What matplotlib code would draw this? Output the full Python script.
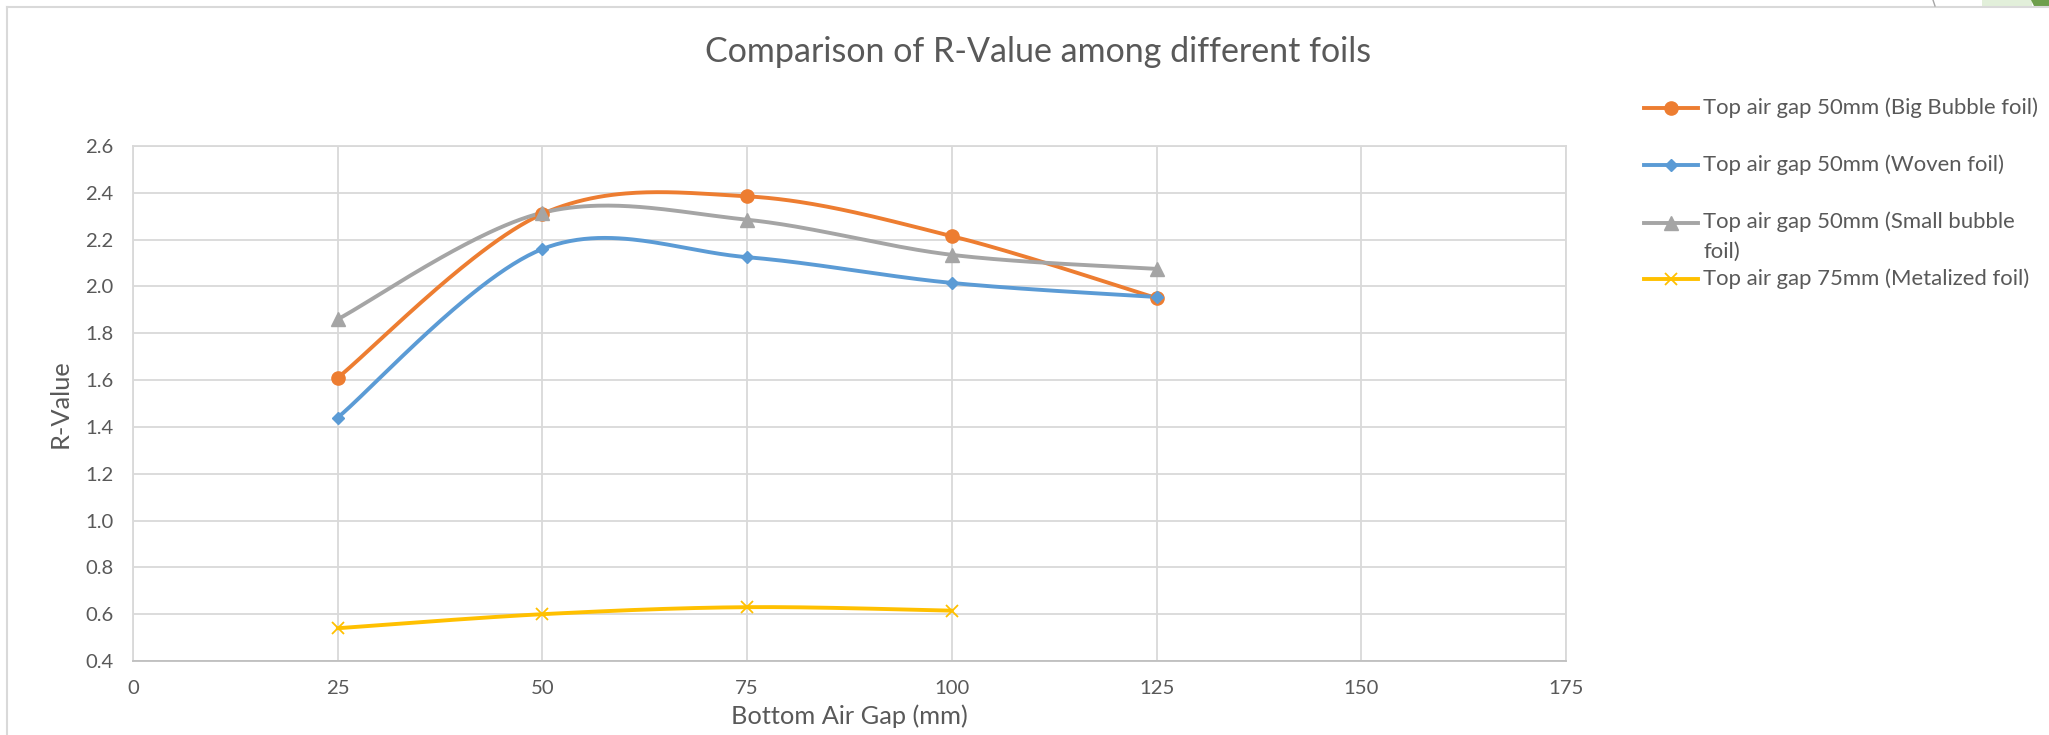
import numpy as np
import matplotlib
matplotlib.use("Agg")
import matplotlib.pyplot as plt
from matplotlib.lines import Line2D
from matplotlib.patches import Rectangle, Polygon

# ---------------- data ----------------
bottom_gap = [25, 50, 75, 100, 125]
bottom_gap_metal = [25, 50, 75, 100]
big_bubble = [1.61, 2.31, 2.385, 2.215, 1.95]
woven = [1.44, 2.16, 2.125, 2.015, 1.955]
small_bubble = [1.86, 2.315, 2.285, 2.135, 2.075]
metalized = [0.54, 0.60, 0.63, 0.615]

labels = [
    "Top air gap 50mm (Big Bubble foil)",
    "Top air gap 50mm (Woven foil)",
    "Top air gap 50mm (Small bubble\nfoil)",
    "Top air gap 75mm (Metalized foil)",
]
x_ticks = [0, 25, 50, 75, 100, 125, 150, 175]
y_ticks = [0.4, 0.6, 0.8, 1.0, 1.2, 1.4, 1.6, 1.8, 2.0, 2.2, 2.4, 2.6]

title = "Comparison of R-Value among different foils"
xlabel = "Bottom Air Gap (mm)"
ylabel = "R-Value"

# ---------------- style ----------------
W, H = 2049, 735
FONT = "Lato"
TXT = "#595959"
GRID = "#D9D9D9"
colors = ["#ED7D31", "#5B9BD5", "#A5A5A5", "#FFC000"]
markers = [dict(marker="o", ms=9.5), dict(marker="D", ms=6.5),
           dict(marker="^", ms=9.5), dict(marker="x", ms=9, mew=1.3)]
LW = 2.8


def smooth(xs, ys, n=60):
    """Excel-like smoothed line (Catmull-Rom Bezier)."""
    P = np.column_stack([xs, ys]).astype(float)
    out = [P[0]]
    t = np.linspace(0, 1, n)[1:, None]
    for i in range(len(P) - 1):
        p0 = P[i - 1] if i > 0 else P[i]
        p1, p2 = P[i], P[i + 1]
        p3 = P[i + 2] if i + 2 < len(P) else P[i + 1]
        c1 = p1 + (p2 - p0) / 6.0
        c2 = p2 - (p3 - p1) / 6.0
        seg = ((1 - t) ** 3) * p1 + 3 * ((1 - t) ** 2) * t * c1 \
            + 3 * (1 - t) * t ** 2 * c2 + t ** 3 * p2
        out.extend(seg)
    out = np.array(out)
    return out[:, 0], out[:, 1]


fig = plt.figure(figsize=(W / 100, H / 100), dpi=100, facecolor="white")


def fx(px):
    return px / W


def fy(py):
    return 1 - py / H


ax = fig.add_axes([fx(133), fy(661), fx(1566) - fx(133), fy(146) - fy(661)])
ax.set_xlim(0, 175)
ax.set_ylim(0.4, 2.6)
ax.set_xticks(x_ticks)
ax.set_xticklabels([str(v) for v in x_ticks])
ax.set_yticks(y_ticks)
ax.set_yticklabels([f"{v:.1f}" for v in y_ticks])
ax.grid(True, color=GRID, lw=1.3)
ax.set_axisbelow(True)
for s in ax.spines.values():
    s.set_color(GRID)
    s.set_linewidth(1.3)
ax.spines["bottom"].set_color("#BFBFBF")
ax.tick_params(length=0, labelsize=14.6, labelcolor=TXT, pad=14)
for lab in ax.get_xticklabels() + ax.get_yticklabels():
    lab.set_family(FONT)

series = [(bottom_gap, big_bubble), (bottom_gap, woven),
          (bottom_gap, small_bubble), (bottom_gap_metal, metalized)]
for (xs, ys), c, m in zip(series, colors, markers):
    sx, sy = smooth(xs, ys)
    ax.plot(sx, sy, color=c, lw=LW, solid_capstyle="round", zorder=3)
    ax.plot(xs, ys, ls="none", color=c, mec=c, mfc=c, zorder=4, **m)

ax.set_xlabel(xlabel, family=FONT, fontsize=18.3, color=TXT, labelpad=5)
ax.set_ylabel(ylabel, family=FONT, fontsize=18.3, color=TXT, labelpad=10)
fig.text(fx(1038), fy(52), title, family=FONT, fontsize=24.5, color=TXT,
         ha="center", va="center")

# ---------------- legend ----------------
rows = [108, 165, 236.5, 279]
marker_rows = [108, 165, 223, 279]
for lab, c, m, ty, my in zip(labels, colors, markers, rows, marker_rows):
    fig.add_artist(Line2D([fx(1644), fx(1698)], [fy(my), fy(my)],
                          transform=fig.transFigure, color=c, lw=LW))
    fig.add_artist(Line2D([fx(1671)], [fy(my)], transform=fig.transFigure,
                          ls="none", color=c, mec=c, mfc=c, **m))
    fig.text(fx(1703), fy(ty), lab, family=FONT, fontsize=15.9, color=TXT,
             ha="left", va="center", linespacing=1.6)

# ---------------- chart frame & sheet artifacts ----------------
fig.add_artist(Line2D([fx(7), fx(2049)], [fy(7), fy(7)],
                      transform=fig.transFigure, color=GRID, lw=1.5))
fig.add_artist(Line2D([fx(7), fx(7)], [fy(7), fy(735)],
                      transform=fig.transFigure, color=GRID, lw=1.5))
fig.add_artist(Line2D([fx(1933), fx(1935)], [fy(0), fy(6)],
                      transform=fig.transFigure, color="#A6A6A6", lw=1.0))
fig.add_artist(Rectangle((fx(1982), fy(6)), fx(2032) - fx(1982), fy(0) - fy(6),
                         transform=fig.transFigure, color="#E2EFDA", lw=0))
fig.add_artist(Polygon([(fx(2031), fy(0)), (fx(2049), fy(0)),
                        (fx(2049), fy(6)), (fx(2034), fy(6))],
                       closed=True, transform=fig.transFigure,
                       color="#6E9F4C", lw=0))

fig.savefig("out.png", dpi=100, facecolor="white")
